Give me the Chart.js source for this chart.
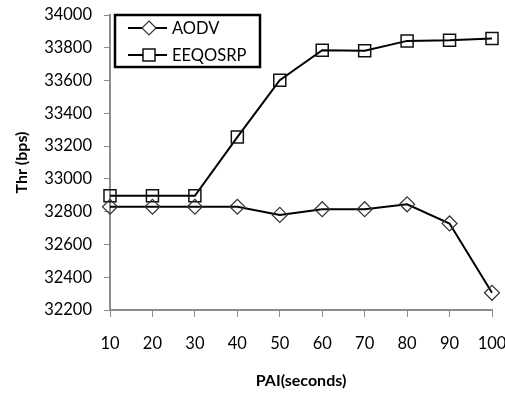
<!DOCTYPE html>
<html>
<head>
<meta charset="utf-8">
<script src="https://cdn.jsdelivr.net/npm/chart.js@4"></script>
<style>
  html, body { margin: 0; padding: 0; background: #fff; }
  #wrap { width: 505px; height: 394px; }
</style>
</head>
<body>
<div id="wrap"><canvas id="thrChart" width="505" height="394"></canvas></div>
<script>
const pai = ["10", "20", "30", "40", "50", "60", "70", "80", "90", "100"];
const aodv = [32830, 32830, 32830, 32830, 32780, 32815, 32815, 32845, 32728, 32305];
const eeqosrp = [32897, 32897, 32897, 33255, 33602, 33785, 33782, 33842, 33846, 33856];
const yTicks = [32200, 32400, 32600, 32800, 33000, 33200, 33400, 33600, 33800, 34000];

const tickFont = { family: "Lato", size: 16.5 };
const axisGray = "#8c8c8c";

// legend box with line + marker, like the office-style chart
const boxLegend = {
  id: "boxLegend",
  afterDraw(chart) {
    const ctx = chart.ctx;
    ctx.save();
    ctx.lineWidth = 2.5;
    ctx.strokeStyle = "#000";
    ctx.strokeRect(115, 15, 145, 52);
    chart.data.datasets.forEach((ds, i) => {
      const y = 28 + i * 27;
      ctx.beginPath();
      ctx.lineWidth = 2;
      ctx.strokeStyle = "#000";
      ctx.moveTo(128, y);
      ctx.lineTo(167, y);
      ctx.stroke();
      ctx.lineWidth = ds.pointBorderWidth;
      ctx.strokeStyle = ds.pointBorderColor;
      ctx.beginPath();
      if (ds.pointStyle === "rectRot") {
        const r = 7;
        ctx.moveTo(149, y - r); ctx.lineTo(149 + r, y); ctx.lineTo(149, y + r); ctx.lineTo(149 - r, y); ctx.closePath();
      } else {
        ctx.rect(143, y - 6, 12, 12);
      }
      ctx.fillStyle = "#fff";
      ctx.fill();
      ctx.stroke();
      ctx.fillStyle = "#000";
      ctx.font = "16.5px Lato";
      ctx.textBaseline = "middle";
      ctx.fillText(ds.label, 172, y + 1);
    });
    ctx.restore();
  }
};

new Chart(document.getElementById("thrChart"), {
  type: "line",
  data: {
    labels: pai,
    datasets: [
      {
        label: "AODV",
        data: aodv,
        borderColor: "#000",
        borderWidth: 2,
        pointStyle: "rectRot",
        pointRadius: 7.5,
        pointBorderColor: "#333",
        pointBorderWidth: 1.2,
        pointBackgroundColor: "rgba(255,255,255,0)",
        tension: 0
      },
      {
        label: "EEQOSRP",
        data: eeqosrp,
        borderColor: "#000",
        borderWidth: 2,
        pointStyle: "rect",
        pointRadius: 8.5,
        pointBorderColor: "#111",
        pointBorderWidth: 1.5,
        pointBackgroundColor: "rgba(255,255,255,0)",
        tension: 0
      }
    ]
  },
  options: {
    responsive: false,
    animation: false,
    layout: { padding: { top: 15, right: 13, left: 0, bottom: 0 } },
    plugins: {
      legend: { display: false },
      tooltip: { enabled: false }
    },
    scales: {
      x: {
        offset: false,
        grid: { display: true, drawOnChartArea: false, color: axisGray, tickLength: 7 },
        border: { color: axisGray, width: 2 },
        ticks: { color: "#000", font: tickFont, padding: 17, maxRotation: 0 },
        title: {
          display: true, text: "PAI(seconds)", color: "#000",
          font: { family: "Lato", size: 16, weight: "bold" }, padding: { top: 14 }
        },
        afterFit(s) { s.height = 84; s.paddingLeft = 0; s.paddingRight = 0; }
      },
      y: {
        min: 32200, max: 34000,
        afterBuildTicks(s) { s.ticks = yTicks.map(v => ({ value: v })); },
        grid: { display: true, drawOnChartArea: false, color: axisGray, tickLength: 6 },
        border: { color: axisGray, width: 2 },
        ticks: { color: "#000", font: tickFont, padding: 12, callback: v => String(v) },
        title: {
          display: true, text: "Thr (bps)", color: "#000",
          font: { family: "Lato", size: 16, weight: "bold" }, padding: { top: 12, bottom: 0 }
        },
        afterFit(s) { s.width = 110; s.paddingTop = 0; s.paddingBottom = 0; }
      }
    }
  },
  plugins: [boxLegend]
});
</script>
</body>
</html>
